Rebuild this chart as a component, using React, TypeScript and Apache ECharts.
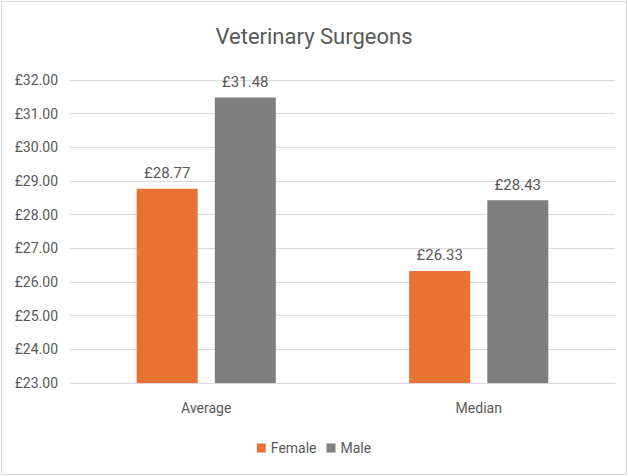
import React, { useEffect, useRef } from "react";
import * as echarts from "echarts";

const categories = ["Average", "Median"];
const femaleValues = [28.77, 26.33];
const maleValues = [31.48, 28.43];
const seriesNames = ["Female", "Male"];
const titleText = "Veterinary Surgeons";

const FONT = "'Liberation Sans Narrow', 'Roboto', sans-serif";
const TXT = "#595959";

export default function App() {
  const ref = useRef<HTMLDivElement>(null);
  useEffect(() => {
    if (!ref.current) return;
    const chart = echarts.init(ref.current, null, { renderer: "svg" });
    const label = {
      show: true,
      position: "top",
      distance: 8,
      color: TXT,
      fontSize: 15,
      fontFamily: FONT,
      formatter: (p: any) => "£" + Number(p.value).toFixed(2),
    };
    chart.setOption({
      animation: false,
      backgroundColor: "#ffffff",
      textStyle: { fontFamily: FONT },
      title: {
        text: titleText,
        left: "center",
        top: 20,
        textStyle: { color: TXT, fontSize: 22, fontWeight: "normal", fontFamily: FONT },
      },
      legend: {
        bottom: 16,
        left: "center",
        itemWidth: 9,
        itemHeight: 9,
        itemGap: 10,
        icon: "rect",
        textStyle: { color: TXT, fontSize: 14, fontFamily: FONT },
        data: seriesNames,
      },
      grid: { left: 70, right: 13, top: 80, bottom: 93, containLabel: false },
      xAxis: {
        type: "category",
        data: categories,
        axisLine: { lineStyle: { color: "#d9d9d9", width: 1 } },
        axisTick: { show: false },
        axisLabel: { color: TXT, fontSize: 14, fontFamily: FONT, margin: 18 },
      },
      yAxis: {
        type: "value",
        min: 23,
        max: 32,
        interval: 1,
        axisLine: { show: false },
        axisTick: { show: false },
        splitLine: { lineStyle: { color: "#d9d9d9", width: 1 } },
        axisLabel: {
          color: TXT,
          fontSize: 14,
          fontFamily: FONT,
          margin: 12,
          formatter: (v: number) => "£" + v.toFixed(2),
        },
      },
      series: [
        {
          name: seriesNames[0],
          type: "bar",
          data: femaleValues,
          barWidth: "22.4%",
          barGap: "28%",
          itemStyle: { color: "#E97132" },
          label,
        },
        {
          name: seriesNames[1],
          type: "bar",
          data: maleValues,
          barWidth: "22.4%",
          barGap: "28%",
          itemStyle: { color: "#7F7F7F" },
          label,
        },
      ],
      graphic: [
        {
          type: "rect",
          shape: { x: 1.5, y: 1.5, width: 625, height: 473 },
          style: { fill: "none", stroke: "#d9d9d9", lineWidth: 1 },
          silent: true,
        },
      ],
    });
    return () => chart.dispose();
  }, []);
  return (
    <div
      ref={ref}
      style={{ position: "fixed", left: 0, top: 0, width: 628, height: 476 }}
    />
  );
}
